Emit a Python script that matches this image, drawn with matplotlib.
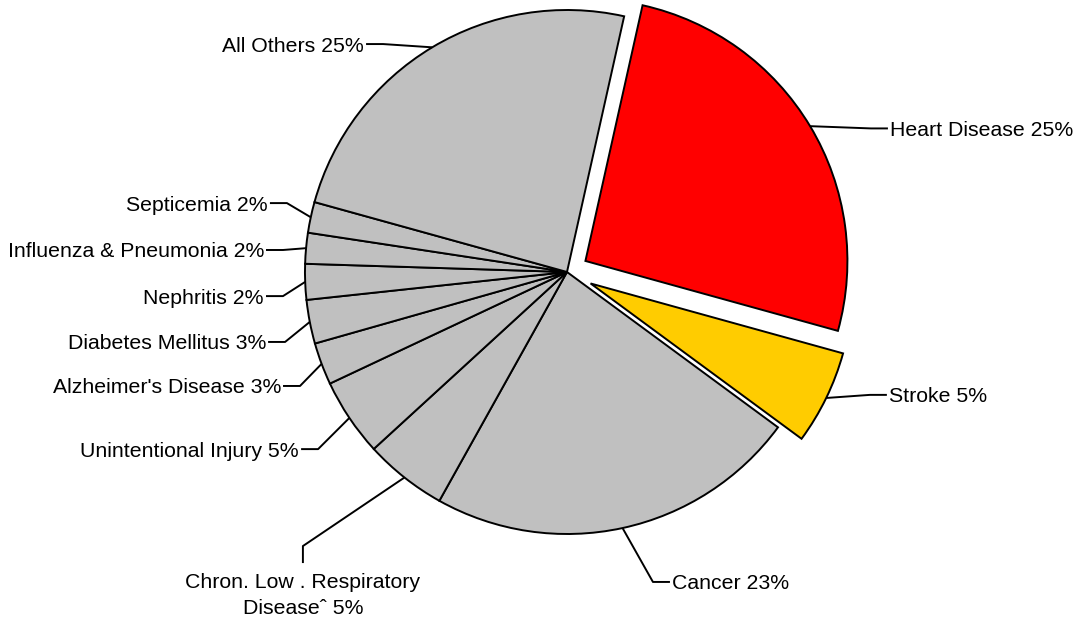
import numpy as np
import matplotlib.pyplot as plt

plt.rcParams['font.family'] = ['Liberation Sans', 'DejaVu Sans']

# causes of death, clockwise from the top
causes = ["Heart Disease", "Stroke", "Cancer", "Chron. Low . Respiratory\nDiseaseˆ",
          "Unintentional Injury", "Alzheimer's Disease", "Diabetes Mellitus",
          "Nephritis", "Influenza & Pneumonia", "Septicemia", "All Others"]
shares = [25.8, 5.8, 23.0, 5.1, 4.8, 2.6, 2.7, 2.2, 1.9, 1.9, 24.2]
pct_labels = ["25%", "5%", "23%", "5%", "5%", "3%", "3%", "2%", "2%", "2%", "25%"]

colors = ["#FF0000", "#FFCC00"] + ["#C0C0C0"] * 9
explode = [0.082, 0.1] + [0] * 9

# leader line knee (in radius units) and which way the label sits
knees = [(1.160, 0.548), (1.156, -0.469), (0.328, -1.183), (-1.008, -1.046),
         (-0.950, -0.676), (-1.019, -0.435), (-1.076, -0.267), (-1.084, -0.092),
         (-1.084, 0.084), (-1.069, 0.263), (-0.702, 0.870)]
sides = ["right", "right", "right", "down", "left", "left", "left", "left",
         "left", "left", "left"]

px = 262.0  # pixels per radius
fig = plt.figure(figsize=(10.81, 6.24), dpi=100)
ax = fig.add_axes([0, 0, 1, 1])

wedges, _ = ax.pie(shares, colors=colors, explode=explode, startangle=77.4,
                   counterclock=False, radius=1,
                   wedgeprops=dict(edgecolor="black", linewidth=1.4))

seg = 17 / px
for w, name, pct, (kx, ky), side in zip(wedges, causes, pct_labels, knees, sides):
    mid = np.deg2rad((w.theta1 + w.theta2) / 2)
    cx, cy = w.center
    sx, sy = cx + np.cos(mid), cy + np.sin(mid)
    if side == "right":
        ex, ey = kx + seg, ky
    elif side == "left":
        ex, ey = kx - seg, ky
    else:
        ex, ey = kx, ky - seg
    ax.plot([sx, kx, ex], [sy, ky, ey], color="black", lw=1.4, solid_capstyle="butt")
    txt = name + " " + pct
    if side == "right":
        ax.text(ex + 2 / px, ey, txt, ha="left", va="center_baseline", fontsize=15.3)
    elif side == "left":
        ax.text(ex - 2 / px, ey, txt, ha="right", va="center_baseline", fontsize=15.3)
    else:
        ax.text(ex, ey - 10 / px, txt, ha="center", va="top", fontsize=15.3,
                multialignment="center", linespacing=1.45)

ax.set_xlim(-567 / px, (1081 - 567) / px)
ax.set_ylim(-(624 - 272) / px, 272 / px)
ax.set_aspect("auto")
ax.axis("off")

fig.savefig("out.png", dpi=100)
